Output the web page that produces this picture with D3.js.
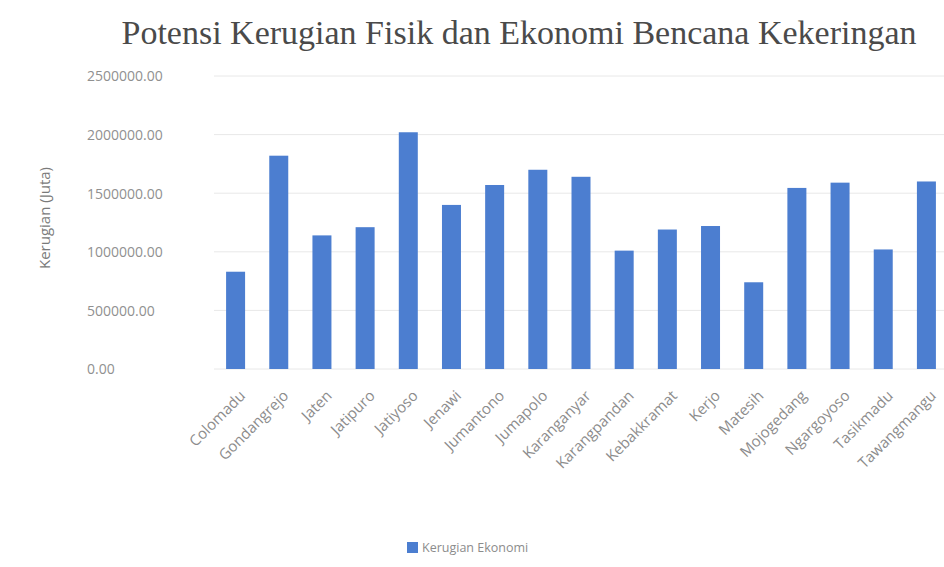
<!DOCTYPE html>
<html>
<head>
<meta charset="utf-8">
<script src="https://cdn.jsdelivr.net/npm/d3@7"></script>
<style>
  body { margin: 0; background: #fff; }
  svg { display: block; }
</style>
</head>
<body>
<div id="chart"></div>
<script>
// Potensi Kerugian Fisik dan Ekonomi Bencana Kekeringan - bar chart
const width = 944;
const height = 567;

const kecamatan = ["Colomadu", "Gondangrejo", "Jaten", "Jatipuro", "Jatiyoso", "Jenawi",
  "Jumantono", "Jumapolo", "Karanganyar", "Karangpandan", "Kebakkramat", "Kerjo",
  "Matesih", "Mojogedang", "Ngargoyoso", "Tasikmadu", "Tawangmangu"];
const kerugianEkonomi = [830000, 1820000, 1140000, 1210000, 2020000, 1400000,
  1570000, 1700000, 1640000, 1010000, 1190000, 1220000,
  740000, 1545000, 1590000, 1020000, 1600000];
const yTicks = [0, 500000, 1000000, 1500000, 2000000, 2500000];

const plot = {left: 214, right: 948, top: 76, bottom: 369};

const svg = d3.select("#chart")
  .append("svg")
  .attr("width", width)
  .attr("height", height);

const x = d3.scaleBand()
  .domain(kecamatan)
  .range([plot.left, plot.right])
  .paddingInner(0.56)
  .paddingOuter(0.28);

const y = d3.scaleLinear()
  .domain([0, 2500000])
  .range([plot.bottom, plot.top]);

// title
svg.append("text")
  .attr("x", 519)
  .attr("y", 44)
  .attr("text-anchor", "middle")
  .style("font-family", "'Liberation Serif', 'DejaVu Serif', serif")
  .style("font-size", "34px")
  .style("fill", "#4a4a4a")
  .text("Potensi Kerugian Fisik dan Ekonomi Bencana Kekeringan");

// gridlines
svg.append("g")
  .selectAll("line")
  .data(yTicks)
  .join("line")
  .attr("x1", plot.left)
  .attr("x2", plot.right)
  .attr("y1", d => y(d))
  .attr("y2", d => y(d))
  .style("stroke", "#e8e8e8")
  .style("stroke-width", 1);

// y axis labels, left aligned like the original
const yAxis = svg.append("g")
  .attr("transform", "translate(" + plot.left + ",0)")
  .call(d3.axisLeft(y).tickValues(yTicks).tickFormat(d3.format(".2f")).tickSize(0));
yAxis.select(".domain").remove();
yAxis.selectAll("text")
  .attr("x", 87 - plot.left)
  .attr("dy", "0.35em")
  .style("text-anchor", "start")
  .style("font-family", "'Open Sans', 'Liberation Sans', sans-serif")
  .style("font-size", "14px")
  .style("fill", "#909090");

svg.append("text")
  .attr("transform", "translate(50," + 218 + ") rotate(-90)")
  .attr("text-anchor", "middle")
  .style("font-family", "'Open Sans', 'Liberation Sans', sans-serif")
  .style("font-size", "15px")
  .style("fill", "#7a7a7a")
  .text("Kerugian (Juta)");

// bars
svg.append("g")
  .selectAll("rect")
  .data(kecamatan)
  .join("rect")
  .attr("x", d => x(d))
  .attr("y", (d, i) => y(kerugianEkonomi[i]))
  .attr("width", x.bandwidth())
  .attr("height", (d, i) => y(0) - y(kerugianEkonomi[i]))
  .attr("fill", "#4c7ed0");

// x axis labels
const xAxis = svg.append("g")
  .attr("transform", "translate(0," + plot.bottom + ")")
  .call(d3.axisBottom(x).tickSize(0));
xAxis.select(".domain").remove();
xAxis.selectAll("text")
  .attr("transform", "translate(7,24) rotate(-45)")
  .attr("dy", "0.35em")
  .attr("y", 0)
  .style("text-anchor", "end")
  .style("font-family", "'Open Sans', 'Liberation Sans', sans-serif")
  .style("font-size", "15px")
  .style("fill", "#8c8c8c");

// legend
const legend = svg.append("g").attr("transform", "translate(407,548)");
legend.append("rect")
  .attr("x", 0).attr("y", -6)
  .attr("width", 11).attr("height", 11)
  .attr("fill", "#4c7ed0");
legend.append("text")
  .attr("x", 15).attr("y", 0)
  .attr("dy", "0.35em")
  .style("font-family", "'Open Sans', 'Liberation Sans', sans-serif")
  .style("font-size", "12.5px")
  .style("fill", "#8c8c8c")
  .text("Kerugian Ekonomi");
</script>
</body>
</html>
